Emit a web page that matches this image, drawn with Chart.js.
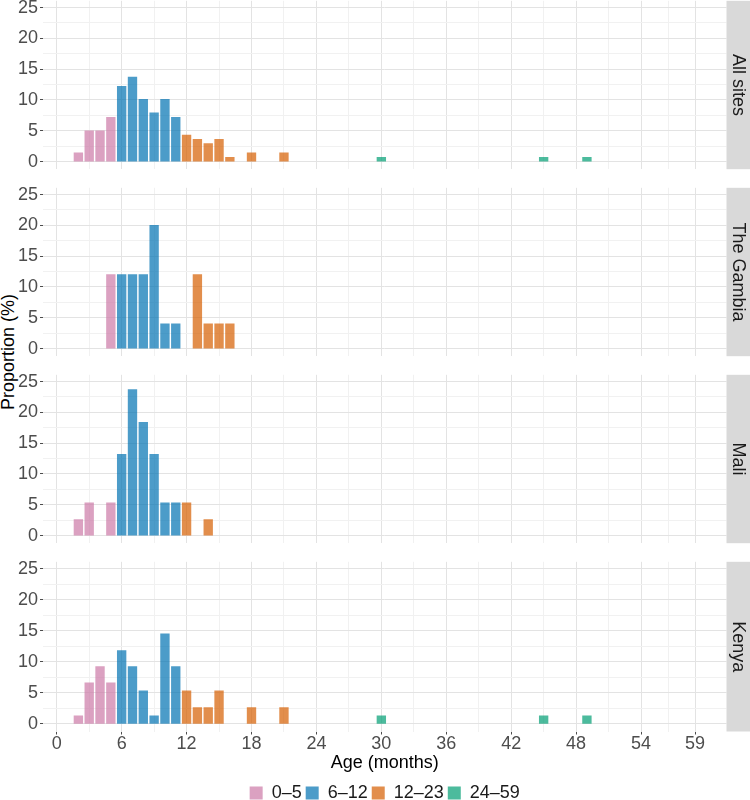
<!DOCTYPE html>
<html>
<head>
<meta charset="utf-8">
<script src="https://cdn.jsdelivr.net/npm/chart.js@4.4.1/dist/chart.umd.min.js"></script>
<style>
  html, body { margin: 0; padding: 0; width: 750px; height: 800px; overflow: hidden; background: #ffffff; }
  canvas { position: absolute; left: 0; }
  #ytitle {
    position: absolute; left: 8px; top: 352px;
    transform: translate(-50%, -50%) rotate(-90deg);
    font: 18px "Liberation Sans", Arial, sans-serif; color: #000000; white-space: nowrap;
  }
</style>
</head>
<body>
<div id="ytitle">Proportion (%)</div>
<script>
// ---- Data ----
const siteNames = ['All sites', 'The Gambia', 'Mali', 'Kenya'];
const groupLabels = ['0–5', '6–12', '12–23', '24–59'];
const xTickLabels = [0, 6, 12, 18, 24, 30, 36, 42, 48, 54, 59];
const yTickLabels = [0, 5, 10, 15, 20, 25];

const allMonths = [2, 3, 4, 5, 6, 7, 8, 9, 10, 11, 12, 13, 14, 15, 16, 18, 21, 30, 45, 49];
const allPct    = [1.4, 5.0, 5.0, 7.2, 12.2, 13.7, 10.1, 7.9, 10.1, 7.2, 4.3, 3.6, 2.9, 3.6, 0.7, 1.4, 1.4, 0.7, 0.7, 0.7];

const gambiaMonths = [5, 6, 7, 8, 9, 10, 11, 13, 14, 15, 16];
const gambiaPct    = [12, 12, 12, 12, 20, 4, 4, 12, 4, 4, 4];

const maliMonths = [2, 3, 5, 6, 7, 8, 9, 10, 11, 12, 14];
const maliPct    = [2.6, 5.3, 5.3, 13.2, 23.7, 18.4, 13.2, 5.3, 5.3, 5.3, 2.6];

const kenyaMonths = [2, 3, 4, 5, 6, 7, 8, 9, 10, 11, 12, 13, 14, 15, 18, 21, 30, 45, 49];
const kenyaPct    = [1.3, 6.6, 9.2, 6.6, 11.8, 9.2, 5.3, 1.3, 14.5, 9.2, 5.3, 2.6, 2.6, 5.3, 2.6, 2.6, 1.3, 1.3, 1.3];

// ---- Styling ----
const groupColors = ['rgba(204,121,167,0.7)', 'rgba(0,114,178,0.7)', 'rgba(213,94,0,0.7)', 'rgba(0,158,115,0.7)'];
const FONT = '"Liberation Sans", Arial, sans-serif';
Chart.defaults.font.family = FONT;
Chart.defaults.devicePixelRatio = 1;

const siteMonths = [allMonths, gambiaMonths, maliMonths, kenyaMonths];
const sitePct = [allPct, gambiaPct, maliPct, kenyaPct];
function groupOf(m) { return m < 6 ? 0 : (m < 12 ? 1 : (m < 24 ? 2 : 3)); }

// minor gridline positions (midpoints of majors)
const xGrid = [];
xTickLabels.forEach((v, k) => { xGrid.push(v); if (k < xTickLabels.length - 1) xGrid.push((v + xTickLabels[k + 1]) / 2); });
const yGrid = [];
yTickLabels.forEach((v, k) => { yGrid.push(v); if (k < yTickLabels.length - 1) yGrid.push((v + yTickLabels[k + 1]) / 2); });

const MAJOR = '#E3E3E3', MINOR = '#F1F1F1', TICK = '#4D4D4D';

const stripPlugin = {
  id: 'strip',
  afterDraw(chart, args, opts) {
    const { ctx, chartArea } = chart;
    const x0 = chartArea.right, w = chart.width - x0;
    ctx.save();
    ctx.fillStyle = '#D9D9D9';
    ctx.fillRect(x0, chartArea.top, w, chartArea.bottom - chartArea.top);
    ctx.translate(x0 + w / 2, (chartArea.top + chartArea.bottom) / 2);
    ctx.rotate(Math.PI / 2);
    ctx.font = '18px ' + FONT;
    ctx.fillStyle = '#1A1A1A';
    ctx.textAlign = 'center';
    ctx.textBaseline = 'middle';
    ctx.fillText(opts.text, 0, 0);
    ctx.restore();
  }
};

const panelTops = [0, 187, 374, 561];
const PAD = 12;

panelTops.forEach((top, i) => {
  const last = i === panelTops.length - 1;
  const h = last ? 262.5 : 194;
  const canvas = document.createElement('canvas');
  canvas.width = 750; canvas.height = Math.round(h);
  canvas.style.top = (top - PAD) + 'px';
  canvas.style.width = '750px'; canvas.style.height = Math.round(h) + 'px';
  document.body.appendChild(canvas);

  const datasets = groupLabels.map((g, gi) => ({
    label: g,
    data: siteMonths[i].map((m, k) => ({ x: m, y: sitePct[i][k] })).filter(p => groupOf(p.x) === gi),
    backgroundColor: groupColors[gi],
    borderWidth: 0,
    barThickness: 8.7,
    grouped: false
  }));

  new Chart(canvas, {
    type: 'bar',
    data: { datasets },
    plugins: [stripPlugin],
    options: {
      responsive: false,
      animation: false,
      events: [],
      layout: { padding: { top: PAD, bottom: last ? 0 : PAD, left: 0, right: 23.5 } },
      scales: {
        x: {
          type: 'linear', min: -1.27, max: 61.9, offset: false,
          afterBuildTicks: s => { s.ticks = xGrid.map(v => ({ value: v })); },
          afterFit: s => { s.height = last ? 48.5 : 0; },
          border: { display: false },
          grid: {
            offset: false,
            color: c => xTickLabels.includes(c.tick.value) ? MAJOR : MINOR,
            lineWidth: 1,
            drawTicks: last,
            tickLength: 3,
            tickColor: c => xTickLabels.includes(c.tick.value) ? TICK : 'rgba(0,0,0,0)'
          },
          ticks: {
            display: last, autoSkip: false, maxRotation: 0, padding: -1,
            color: TICK, font: { size: 18 },
            callback: v => xTickLabels.includes(v) ? String(v) : ''
          },
          title: {
            display: last, text: 'Age (months)', color: '#000000',
            font: { size: 18 }, padding: { top: 0, bottom: 6 }
          }
        },
        y: {
          type: 'linear', min: -1.24, max: 26.1,
          afterBuildTicks: s => { s.ticks = yGrid.map(v => ({ value: v })); },
          afterFit: s => { s.width = 43; },
          border: { display: false },
          grid: {
            color: c => yTickLabels.includes(c.tick.value) ? MAJOR : MINOR,
            lineWidth: 1,
            drawTicks: true,
            tickLength: 3,
            tickColor: c => yTickLabels.includes(c.tick.value) ? TICK : 'rgba(0,0,0,0)'
          },
          ticks: {
            autoSkip: false, padding: 2, color: TICK, font: { size: 18 },
            callback: v => yTickLabels.includes(v) ? String(v) : ''
          }
        }
      },
      plugins: {
        strip: { text: siteNames[i] },
        tooltip: { enabled: false },
        legend: {
          display: last, position: 'bottom', fullSize: false,
          labels: { boxWidth: 13, boxHeight: 13, padding: 4, color: '#1A1A1A', font: { size: 18 } }
        }
      }
    }
  });
});
</script>
</body>
</html>
